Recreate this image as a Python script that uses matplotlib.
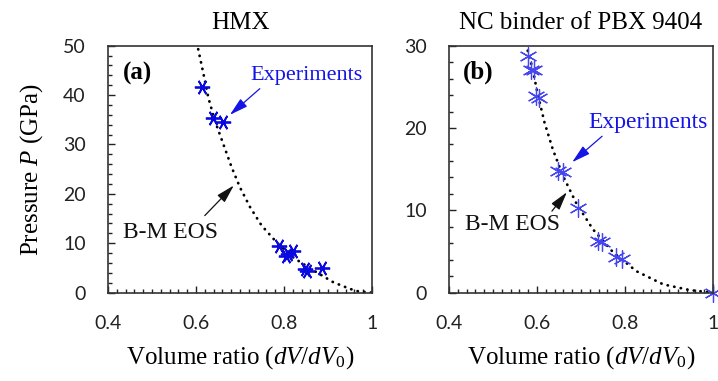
import matplotlib
matplotlib.use("Agg")
import matplotlib.pyplot as plt
from matplotlib.ticker import MultipleLocator

# ---------- data ----------
# (a) HMX
hmx_exp_v = [0.613, 0.639, 0.661, 0.789, 0.805, 0.810, 0.820, 0.848, 0.853, 0.887]
hmx_exp_p = [41.7, 35.4, 34.5, 9.5, 7.5, 7.8, 8.5, 4.8, 4.3, 5.0]
hmx_eos_v = [0.605, 0.617, 0.628, 0.643, 0.662, 0.681, 0.700, 0.723, 0.749,
             0.783, 0.821, 0.867, 0.912, 0.950, 0.969, 1.0]
hmx_eos_p = [49.3, 44.3, 39.5, 34.8, 30.1, 25.4, 21.3, 17.3, 13.6,
             10.2, 7.1, 4.5, 2.1, 0.75, 0.26, 0.0]

# (b) NC binder
nc_exp_v = [0.579, 0.586, 0.594, 0.598, 0.605, 0.647, 0.659, 0.693,
            0.738, 0.748, 0.780, 0.794, 1.0]
nc_exp_p = [28.8, 27.0, 27.0, 23.9, 23.7, 14.8, 14.6, 10.3,
            6.3, 6.1, 4.3, 4.05, 0.0]
nc_eos_v = [0.579, 0.590, 0.601, 0.617, 0.636, 0.659, 0.689, 0.727,
            0.773, 0.826, 0.887, 0.948, 1.0]
nc_eos_p = [29.4, 27.2, 24.3, 20.7, 17.4, 14.2, 10.9, 7.7,
            4.9, 2.6, 1.0, 0.3, 0.0]

xticks = [0.4, 0.6, 0.8, 1.0]
xtick_labels = ["0.4", "0.6", "0.8", "1"]

# ---------- style ----------
plt.rcParams["mathtext.fontset"] = "custom"
plt.rcParams["mathtext.rm"] = "Liberation Serif"
plt.rcParams["mathtext.it"] = "Liberation Serif:italic"
serif = "Liberation Serif"
sans = "Lato"
blue = "#1414e6"

fig = plt.figure(figsize=(7.18, 3.81), dpi=100)
ax_a = fig.add_axes([0.1504, 0.232, 0.3677, 0.648])
ax_b = fig.add_axes([0.6253, 0.232, 0.3677, 0.648])


def style_axes(ax, ymax, yticks):
    ax.set_xlim(0.4, 1.0)
    ax.set_ylim(0, ymax)
    ax.set_xticks(xticks)
    ax.set_xticklabels(xtick_labels)
    ax.set_yticks(yticks)
    ax.xaxis.set_minor_locator(MultipleLocator(0.02))
    ax.yaxis.set_minor_locator(MultipleLocator(2))
    ax.tick_params(which="both", direction="in", width=1.0, pad=16,
                   labelsize=14, colors="#222222")
    ax.tick_params(which="major", length=5)
    ax.tick_params(which="minor", length=3)
    for lab in ax.get_xticklabels() + ax.get_yticklabels():
        lab.set_fontfamily(sans)
    for s in ax.spines.values():
        s.set_linewidth(1.2)
        s.set_color("#333333")
    ax.set_xlabel("Volume ratio ($dV/dV_0$)", family=serif, fontsize=18, labelpad=9)


style_axes(ax_a, 50, [0, 10, 20, 30, 40, 50])
style_axes(ax_b, 30, [0, 10, 20, 30])

dot = dict(color="black", lw=2.0, linestyle=(0, (0.1, 2.3)), dash_capstyle="round")
arrow_kw = "-|>,head_length=0.8,head_width=0.22"

# ---------- (a) HMX ----------
ax_a.plot(hmx_eos_v, hmx_eos_p, **dot)
ax_a.plot(hmx_exp_v, hmx_exp_p, linestyle="none", marker=(6, 2, 90),
          markersize=11, markeredgewidth=1.3, color="#0a0ae0")
ax_a.set_title("HMX", family=serif, fontsize=18, pad=12)
ax_a.set_ylabel("Pressure $P$ (GPa)", family=serif, fontsize=18, labelpad=13)
ax_a.text(0.057, 0.887, "(a)", transform=ax_a.transAxes, family=serif,
          fontsize=18, fontweight="bold", va="center", ha="left")
ax_a.text(0.723, 43.9, "Experiments", color=blue, family=serif, fontsize=16,
          va="center", ha="left")
ax_a.annotate("", xy=(0.677, 36.0), xytext=(0.745, 41.3),
              arrowprops=dict(arrowstyle=arrow_kw, mutation_scale=14, lw=0.9,
                              color=blue, shrinkA=0, shrinkB=0))
ax_a.text(0.434, 12.1, "B-M EOS", color="#111111", family=serif, fontsize=17,
          va="center", ha="left")
ax_a.annotate("", xy=(0.686, 21.7), xytext=(0.620, 15.6),
              arrowprops=dict(arrowstyle=arrow_kw, mutation_scale=14, lw=0.9,
                              color="#111111", shrinkA=0, shrinkB=0))

# ---------- (b) NC binder ----------
ax_b.plot(nc_eos_v, nc_eos_p, **dot)
ax_b.plot(nc_exp_v, nc_exp_p, linestyle="none", marker=(6, 2, 0),
          markersize=13, markeredgewidth=0.9, color="#4646f0", clip_on=False)
ax_b.set_title("NC binder of PBX 9404", family=serif, fontsize=18, pad=12)
ax_b.text(0.053, 0.892, "(b)", transform=ax_b.transAxes, family=serif,
          fontsize=18, fontweight="bold", va="center", ha="left")
ax_b.text(0.716, 20.7, "Experiments", color=blue, family=serif, fontsize=17,
          va="center", ha="left")
ax_b.annotate("", xy=(0.680, 15.85), xytext=(0.748, 19.0),
              arrowprops=dict(arrowstyle=arrow_kw, mutation_scale=14, lw=0.9,
                              color=blue, shrinkA=0, shrinkB=0))
ax_b.text(0.436, 8.3, "B-M EOS", color="#111111", family=serif, fontsize=17,
          va="center", ha="left")
ax_b.annotate("", xy=(0.668, 12.2), xytext=(0.634, 9.9),
              arrowprops=dict(arrowstyle=arrow_kw, mutation_scale=14, lw=0.9,
                              color="#111111", shrinkA=0, shrinkB=0))

fig.savefig("out.png", dpi=100)
